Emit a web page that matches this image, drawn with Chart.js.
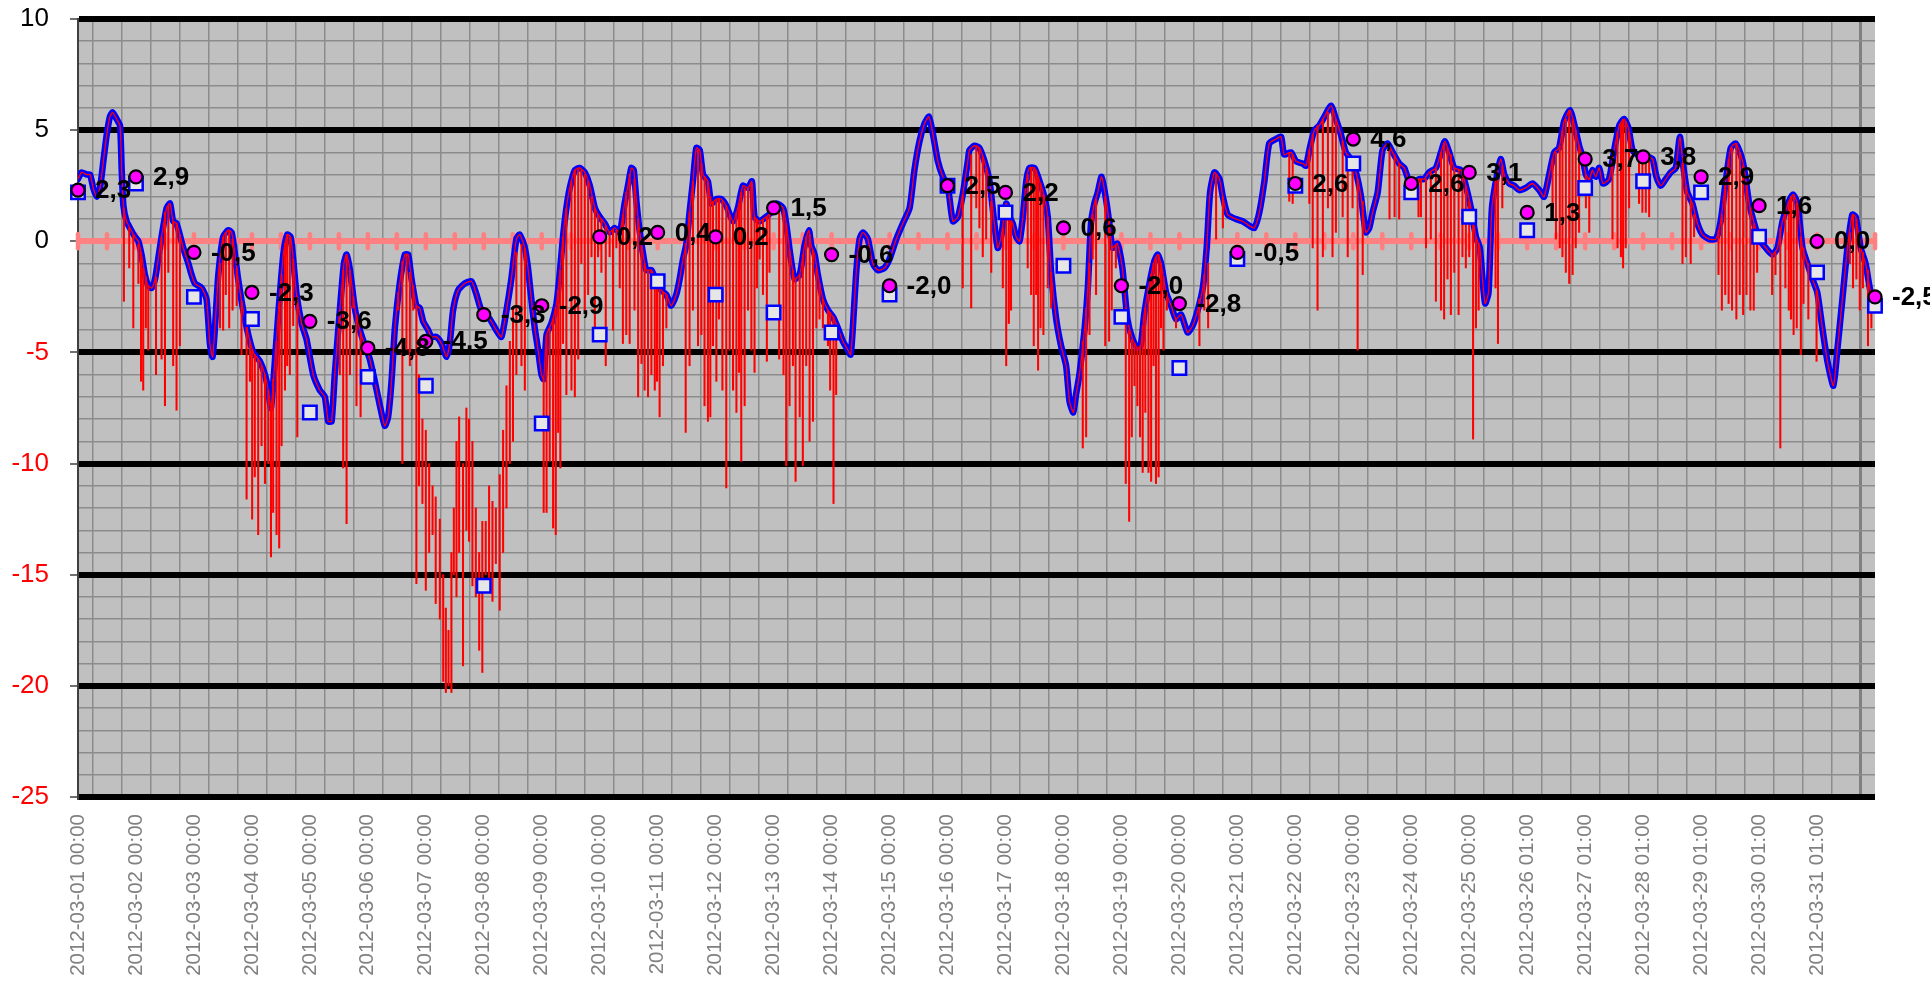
<!DOCTYPE html>
<html>
<head>
<meta charset="utf-8">
<title>Temperatur mars 2012</title>
<script src="https://cdn.jsdelivr.net/npm/chart.js@4.4.1/dist/chart.umd.min.js"></script>
<style>
html,body{margin:0;padding:0;background:#fff}
#wrap{width:1930px;height:984px;position:relative}
</style>
</head>
<body>
<div id="wrap"><canvas id="tempChart"></canvas></div>
<script>

const dayLabels = [
"2012-03-01 00:00","2012-03-02 00:00","2012-03-03 00:00","2012-03-04 00:00","2012-03-05 00:00",
"2012-03-06 00:00","2012-03-07 00:00","2012-03-08 00:00","2012-03-09 00:00","2012-03-10 00:00",
"2012-03-11 00:00","2012-03-12 00:00","2012-03-13 00:00","2012-03-14 00:00","2012-03-15 00:00",
"2012-03-16 00:00","2012-03-17 00:00","2012-03-18 00:00","2012-03-19 00:00","2012-03-20 00:00",
"2012-03-21 00:00","2012-03-22 00:00","2012-03-23 00:00","2012-03-24 00:00","2012-03-25 00:00",
"2012-03-26 01:00","2012-03-27 01:00","2012-03-28 01:00","2012-03-29 01:00","2012-03-30 01:00",
"2012-03-31 01:00"
]

// daily mean (magenta dots, labelled)
const dayMeans = [2.3, 2.9, -0.5, -2.3, -3.6, -4.8, -4.5, -3.3, -2.9, 0.2, 0.4, 0.2, 1.5, -0.6, -2.0, 2.5,
2.2, 0.6, -2.0, -2.8, -0.5, 2.6, 4.6, 2.6, 3.1, 1.3, 3.7, 3.8, 2.9, 1.6, 0.0, -2.5]

// daily value (blue squares)
const daySquares = [2.2, 2.6, -2.5, -3.5, -7.7, -6.1, -6.5, -15.5, -8.2, -4.2, -1.8, -2.4, -3.2, -4.1, -2.4, 2.5,
1.3, -1.1, -3.4, -5.7, -0.8, 2.5, 3.5, 2.2, 1.1, 0.5, 2.4, 2.7, 2.2, 0.2, -1.4, -2.9]

// [hour since 03-01 00:00, temp]
const tempTrace = [
[0,2.8],[1.5,3.1],[3.6,3.0],[5,3.0],[6.3,2.4],[7.7,2.0],[9.1,2.4],[10.5,3.6],[11.9,4.8],[13.2,5.6],[14.3,5.8],[16,5.5],[17.4,5.2],[18.1,3.2],[18.8,1.6],[20.1,0.9],[21.5,0.6],[23.6,0.2],
[25,0.0],[26.3,-0.6],[27.7,-1.5],[29.1,-2.0],[30.5,-2.1],[31.9,-1.7],[33.2,-0.8],[34.6,0.2],[36.7,1.5],[38.1,1.7],[39.4,0.9],[40.8,0.8],[43.6,-0.3],[45.7,-1.0],[47,-1.5],
[48.4,-1.9],[51.2,-2.1],[53.2,-2.6],[54.6,-4.6],[55.7,-5.2],[56.7,-3.9],[58.1,-1.5],[60.1,0.2],[62.2,0.5],[63.6,0.4],[65,-0.6],[66.3,-1.7],[68.4,-3.1],[70.5,-4.2],
[72.6,-5.0],[75.3,-5.4],[77.4,-6.0],[78.8,-6.7],[79.9,-7.5],[81.1,-6.0],[82.9,-3.3],[85,-0.6],[86.6,0.3],[88,0.2],[89.1,-0.8],[90.5,-2.4],[92.6,-3.7],[94.6,-4.4],
[97.4,-6.0],[100.1,-6.7],[102.2,-7.0],[103.6,-8.1],[105,-8.1],[106.3,-6.0],[108.4,-3.1],[110.1,-1.0],[111.2,-0.6],[112.6,-1.3],[114.6,-3.0],[116.7,-4.0],[118.8,-4.7],
[120.8,-5.3],[122.9,-6.3],[125,-7.4],[127,-8.3],[128.4,-7.9],[129.8,-6.3],[131.2,-3.9],[133.2,-1.9],[135.3,-0.6],[136.7,-0.6],[138.1,-1.7],[140.1,-2.9],[141.5,-3.0],[142.9,-3.6],
[145,-4.0],[146.3,-4.3],[148.4,-4.3],[150.5,-4.6],[152.6,-5.2],[153.9,-4.6],[155.3,-3.1],[157.4,-2.2],[160.1,-1.9],[162.9,-1.8],[165,-2.4],[167,-3.1],
[170.5,-3.5],[173.2,-4.0],[175.3,-4.3],[177.4,-3.1],[179.4,-1.7],[181.5,0.1],[182.9,0.3],[185,-0.3],[186.3,-1.2],[187.7,-2.6],[189.1,-3.9],[190.5,-4.9],[191.9,-6.0],
[192.8,-6.2],[194,-4.2],[196,-3.7],[198.1,-2.8],[199.4,-1.5],[200.8,0.2],[202.2,1.5],[203.6,2.4],[205.7,3.2],[207.7,3.3],[209.8,3.1],[211.9,2.5],[214,1.5],
[216,1.1],[218.1,0.8],[220.1,0.4],[222.2,0.6],[224.3,0.4],[226.3,1.7],[227.7,2.5],[229.1,3.3],[230.1,3.2],[231.2,1.8],[232.6,0.4],[234,-0.6],[235.3,-1.3],[237.4,-1.3],
[239.4,-1.8],[241.5,-2.2],[243.6,-2.4],[245.6,-2.9],[247.7,-2.4],[249.1,-1.7],[250.5,-0.8],[251.9,-0.1],[253.2,1.3],[254.6,2.7],[256,4.2],[257.4,4.1],[258.8,3.0],[260.8,2.7],[262.2,1.7],
[264.3,1.9],[266.3,1.9],[268.4,1.6],[271.2,0.9],[273.2,1.5],[275.3,2.5],[277.4,2.4],[279,2.7],[280.1,1.1],[282.2,0.9],[284.9,1.1],[287,1.3],
[289.1,1.7],[291.9,1.5],[293.2,0.8],[294.9,-0.6],[296.7,-1.7],[298.8,-1.5],[300.8,-0.2],[302.6,0.5],[303.6,-0.2],[305,-0.6],[306.3,-1.5],[308.4,-2.6],[310.5,-3.1],
[312.6,-3.4],[314.6,-3.9],[316.7,-4.5],[318.8,-4.9],[319.9,-5.1],[320.8,-3.9],[322.2,-1.4],[323.6,0.1],[325,0.4],[327,0.1],[329.1,-1.0],[331.2,-1.3],[333.9,-1.2],
[336,-0.8],[338.8,0.1],[341.5,0.8],[344.3,1.5],[346.3,3.2],[348.4,4.5],[350.5,5.3],[352.3,5.6],[354,4.8],[356,3.6],[358.1,2.9],
[360.1,2.5],[362.2,0.9],[364.3,1.1],[366.3,2.1],[368.4,3.6],[369.1,4.1],[371.2,4.3],[373.2,4.2],[375.3,3.6],[377.4,2.7],[379.4,0.8],[380.8,-0.3],[382.2,0.2],
[384.3,1.7],[385.7,1.1],[387,0.8],[388.4,0.2],[389.8,0.0],[391.2,1.1],[392.6,2.7],[393.9,3.3],[396,3.3],[398.1,2.7],[400.1,2.0],[401.5,1.1],[402.9,-1.4],[405,-3.5],[407,-4.7],
[409.1,-5.6],[410.5,-7.2],[412.1,-7.7],[413.2,-6.9],[414.6,-6.0],[416.7,-4.0],[418.1,-2.1],[419.4,0.8],[420.8,1.7],[422.2,2.2],[423.8,2.9],[425.6,1.9],[426.9,0.9],[428.3,-0.3],[430.3,-0.1],
[432.4,-1.2],[434.5,-3.5],[436.6,-4.4],[438.6,-4.8],[440,-4.7],[441.4,-3.3],[443.6,-1.9],[445.6,-0.9],[447,-0.6],[448.4,-1.0],[450.5,-2.3],[452.6,-2.9],[454.6,-3.5],
[456.7,-3.3],[459.4,-4.1],[461.5,-3.8],[463.6,-3.1],[465.7,-2.1],[467.3,-0.3],[468.7,2.2],[470.5,3.1],[472.6,2.8],[474,2.0],[476,1.2],[479.4,1.0],
[482.2,0.9],[485,0.7],[487,0.6],[489.1,1.3],[491.2,2.7],[493.2,4.4],[496,4.6],[498.1,4.7],[499.4,3.9],[502.2,4.0],
[504.3,3.6],[507,3.5],[508.4,3.4],[509.8,4.1],[511.9,5.0],[513.9,5.2],[516,5.6],[518.8,6.1],[520.8,5.5],[522.9,4.8],[524.9,4.0],[527,3.7],
[529.1,3.1],[531.2,2.0],[533.2,0.4],[534.6,0.6],[536,1.3],[538.1,2.2],[540.1,4.1],[542.2,4.4],[544.3,4.0],[547,3.5],[549.1,3.3],[551.2,2.7],
[553.9,2.7],[555.3,2.8],[557.4,2.8],[559.4,3.1],[562.2,3.3],[564.3,4.0],[565.9,4.5],[567.7,4.0],[569.8,3.3],[572.6,3.2],[574.6,2.5],[576.7,1.5],
[578.8,0.2],[580.4,-0.3],[581.5,-1.7],[582.6,-2.8],[584,-2.3],[585.4,1.5],[587.7,3.1],[589.1,3.7],[590.5,3.0],[592.6,2.6],[594.6,2.5],[596.7,2.3],[599.4,2.4],
[602.2,2.6],[605,2.3],[607,2.0],[609.1,3.0],[611.2,4.0],[613.2,4.2],[615.3,5.4],[617.7,5.9],[619.4,5.3],[621.5,4.3],[622.9,3.8],
[624.3,3.0],[625.7,2.8],[627,3.2],[628.4,2.9],[629.8,3.3],[631.4,2.6],[633.9,2.8],[636,4.1],[638.1,5.2],[640.1,5.5],[641.9,5.1],[643.6,4.1],[645.6,3.9],
[647.7,3.8],[649.8,3.8],[651.9,3.7],[653.5,2.9],[655.3,2.5],[657.4,2.8],[659.4,3.1],[661.5,3.3],[663.2,4.7],[664.6,3.4],[666.3,2.2],[668.4,1.7],[670.5,0.8],
[672.6,0.3],[675.3,0.1],[678.1,0.1],[680.1,0.9],[682.2,2.7],[684.3,4.2],[686.3,4.4],[688.4,3.9],[689.8,3.3],[691.9,1.7],[694,0.8],
[696,0.1],[698.8,-0.3],[701.5,-0.6],[703.6,-0.3],[705.7,0.9],[708.4,1.8],[710.1,2.1],[711.9,1.7],[714,-0.3],[716,-1.0],[718.1,-1.7],
[720.1,-2.3],[722.2,-3.9],[724.3,-5.4],[726.8,-6.5],[728.4,-4.9],[730.5,-2.6],[732.6,-0.3],[734.6,1.2],[736,1.1],[738.1,-0.3],[740.1,-1.0],[742.2,-2.3],[744,-2.8]
]

// short drops in the raw reading: [hour, lowest, top]
const tempSpikes = [
[19.0,-2.7,1.5],[21.2,-1.2,0.6],[22.9,-3.9,0.3],[25.0,-1.9,0.0],[26.1,-6.3,-0.5],[27.0,-6.7,-1.2],[28.1,-3.9,-1.6],[29.1,-4.9,-2.0],[32.3,-6.0,-1.6],[34.6,-5.3,0.2],[36.0,-7.4,1.3],[37.4,-1.4,1.6],[39.4,-5.6,0.9],[40.8,-7.6,0.8],[42.2,-4.7,0.3],
[58.8,-3.9,-1.0],[60.1,-4.0,0.2],[61.2,-2.4,0.4],[62.6,-3.9,0.5],[64.0,-3.1,0.1],[65.7,-2.9,-1.2],[67.7,-5.1,-2.7],[69.8,-11.6,-3.8],[71.2,-6.3,-4.5],[72.1,-12.5,-4.9],[73.2,-10.6,-5.1],[74.6,-13.2,-5.3],[76.0,-9.2,-5.6],[77.4,-10.9,-6.0],[78.8,-10.0,-6.7],[79.9,-14.2,-7.5],[80.8,-12.2,-6.2],[82.2,-13.2,-4.5],[83.3,-13.8,-2.8],[84.3,-9.2,-1.5],[85.7,-6.7,-0.1],[86.6,-5.6,0.3],[87.7,-6.0,0.2],[89.1,-3.8,-0.8],[90.8,-8.8,-2.5],
[108.4,-6.0,-3.1],[109.8,-10.2,-1.3],[111.2,-12.7,-0.6],[112.6,-6.0,-1.3],[114.0,-3.0,-2.5],[115.3,-7.4,-3.3],[117.0,-7.9,-4.1],
[132.6,-3.1,-2.3],[134.3,-10.0,-0.9],[136.0,-4.9,-0.6],[137.4,-5.6,-1.4],[138.8,-3.1,-2.0],
[140.1,-15.4,-2.9],[141.2,-11.0,-6.0],[142.6,-11.8,-8.0],[144.0,-15.7,-8.5],[145.4,-14.0,-10.0],[146.8,-13.2,-11.0],[148.1,-16.3,-11.5],[149.8,-17.0,-12.5],[151.2,-19.8,-15.0],[152.3,-20.3,-16.5],[153.4,-20.0,-17.5],[154.6,-20.3,-14.0],[155.6,-15.0,-12.0],[156.7,-16.0,-9.0],[157.8,-14.0,-7.9],[159.4,-19.1,-10.0],[160.8,-13.0,-7.5],[161.9,-13.5,-8.0],[163.3,-15.5,-9.0],[164.7,-16.0,-12.0],[166.1,-18.4,-14.0],[167.4,-19.4,-12.6],[168.8,-15.0,-12.6],[170.2,-15.3,-11.0],[171.6,-16.2,-11.7],[173.0,-14.5,-12.0],[174.6,-16.6,-10.5],[176.0,-14.0,-8.5],[177.4,-12.0,-6.5],[178.8,-10.0,-4.5],[180.1,-9.0,-3.0],[181.5,-6.0,-0.5],[183.6,-5.6,0.0],[185.0,-6.7,-0.3],
[192.8,-12.2,-6.2],[194.0,-12.2,-4.2],[195.3,-9.9,-3.9],[196.7,-12.9,-3.5],[197.8,-13.2,-3.0],[198.8,-8.6,-2.2],[199.7,-10.2,-1.3],[200.8,-4.6,0.2],[202.2,-6.9,1.5],[204.3,-6.7,2.7],[205.7,-7.0,3.2],[207.1,-5.3,3.3],[208.4,-1.0,3.2],[209.8,-3.1,3.0],[211.2,-2.4,2.7],[212.6,-0.7,2.0],[214.0,-4.2,1.5],[215.3,-0.7,1.2],[216.7,-1.4,1.0],[218.5,-5.6,0.7],[220.1,-0.7,0.4],[221.5,-4.0,0.5],[222.9,-0.3,0.5],[224.3,-2.1,0.4],[225.6,-4.6,1.2],[227.0,-4.2,2.2],[228.4,-4.6,3.0],[230.4,-3.1,2.8],[231.9,-7.0,1.0],[233.3,-5.5,-0.2],[234.6,-6.7,-1.0],[236.0,-7.0,-1.3],[237.4,-6.0,-1.3],[238.8,-6.7,-1.6],[239.7,-6.3,-1.8],[240.8,-7.9,-2.0],[242.2,-5.6,-2.3],[243.6,-3.9,-2.4],
[251.6,-8.6,-0.1],[253.2,-5.6,1.3],[254.6,-3.1,2.7],[256.7,-4.7,4.1],[258.1,-4.2,3.5],[259.4,-7.4,2.9],[260.8,-8.1,2.7],[261.8,-7.9,2.0],[262.9,-4.7,1.8],[264.3,-6.3,1.9],[265.4,-3.5,1.9],[266.8,-6.7,1.8],[268.4,-11.1,1.6],[269.8,-4.9,1.2],[271.2,-6.7,0.9],[272.6,-7.7,1.3],[273.7,-5.9,1.7],[274.6,-9.9,2.2],[276.0,-7.4,2.4],[277.4,-3.1,2.4],[278.8,-4.9,2.6],[280.1,-5.9,1.1],[281.1,-2.1,1.0],[282.2,-0.8,0.9],[283.6,-2.4,1.0],[285.2,-5.4,1.1],[286.3,-1.4,1.2],
[290.3,-5.3,1.6],[292.1,-6.0,1.4],[293.2,-10.1,0.8],[294.6,-7.4,-0.4],[296.0,-5.6,-1.3],[297.1,-10.8,-1.7],[298.8,-7.9,-1.5],[300.1,-10.1,-0.6],[301.5,-5.6,0.2],[302.9,-9.0,0.3],[304.3,-8.1,-0.4],[305.7,-3.9,-1.2],[307.0,-3.5,-1.9],[308.4,-3.9,-2.6],[310.5,-4.7,-3.1],[311.4,-6.7,-3.2],[312.8,-11.8,-3.4],[313.9,-6.9,-3.7],
[366.3,-2.1,2.1],[369.8,-3.0,3.9],
[371.9,1.5,4.3],[373.2,0.6,4.2],[374.6,-0.7,3.8],[376.0,0.1,3.3],[378.1,-1.4,1.8],[382.9,-2.1,0.6],[384.3,-5.6,1.7],[385.4,-3.7,1.2],[386.3,-3.1,0.9],[393.2,-1.2,3.0],[394.6,-2.4,3.3],[395.7,-4.7,3.3],[396.7,-2.4,3.2],[397.5,-5.8,2.9],[398.5,-3.9,2.6],[399.7,-4.2,2.1],[401.5,-2.1,1.1],[402.9,-3.0,-1.4],
[416.0,-9.3,-4.5],[417.4,-8.8,-3.0],[418.8,-4.2,-1.0],[420.1,-0.8,1.2],[421.5,-2.4,1.9],[425.3,-4.7,2.0],[426.9,-4.5,0.9],[428.0,-3.1,-0.2],[429.7,-1.2,-0.2],
[433.8,-10.9,-3.0],[435.2,-12.6,-4.0],[436.3,-8.8,-4.4],[437.4,-6.5,-4.6],[438.6,-7.4,-4.8],[439.7,-8.8,-4.7],[440.8,-10.4,-3.8],[441.9,-7.7,-3.0],[443.2,-10.4,-2.1],[444.3,-10.8,-1.5],[445.3,-5.6,-1.0],[446.3,-10.9,-0.7],[447.4,-10.6,-0.6],[448.4,-3.9,-1.0],[449.4,-4.9,-1.6],[450.8,-3.1,-2.3],[454.6,-3.9,-3.5],[464.3,-4.7,-2.6],[466.3,-3.1,-1.5],[467.9,-3.9,-1.0],
[471.2,0.1,3.0],[474.0,0.6,2.0],
[501.5,1.8,4.0],[502.9,1.7,3.9],[509.8,1.7,4.1],[511.2,-0.3,4.8],[513.2,-3.1,5.2],[515.4,-0.7,5.5],[517.5,1.5,5.8],[519.4,-0.7,5.9],[520.8,0.4,5.5],[523.6,1.1,4.5],[525.7,-0.7,3.9],[527.7,1.5,3.5],[529.8,-4.9,2.8],[531.9,-1.5,1.8],
[543.0,1.0,4.2],[545.1,1.1,3.9],[547.0,1.0,3.5],[555.0,1.1,2.8],
[556.0,1.1,2.8],[558.1,-0.3,2.8],[560.1,0.1,3.1],[562.2,-2.7,3.3],[564.3,-3.1,4.0],[565.6,-3.5,4.4],[567.0,-1.7,4.2],[568.4,-3.3,3.9],[569.8,-1.4,3.3],[571.6,-3.3,3.2],[573.2,-0.7,3.1],[574.6,-1.2,2.5],[576.0,-0.7,1.8],[577.6,-8.9,1.0],[578.8,-3.9,0.2],[579.9,-3.1,-0.1],[586.9,-2.1,2.8],[587.9,-4.6,3.1],[589.7,1.5,3.4],
[610.5,1.5,3.7],[611.9,0.1,4.0],[613.5,-0.3,4.3],[614.6,-0.7,5.0],[616.0,-1.4,5.5],[617.4,-1.9,5.9],[618.8,-1.5,5.5],[620.1,-0.3,5.0],[621.5,0.4,4.3],[624.3,1.5,3.0],[625.7,0.4,2.8],
[635.3,0.1,3.8],[637.4,-0.3,4.9],[638.8,-0.7,5.3],[639.7,-1.2,5.5],[640.8,-0.3,5.4],[642.2,1.5,4.9],[646.3,1.7,3.9],[647.7,1.3,3.8],[649.1,1.3,3.8],[650.5,1.1,3.8],
[664.3,-1.0,3.5],[665.7,-0.7,2.5],[667.7,-1.0,1.8],[669.1,0.2,1.2],
[679.2,-1.5,0.5],[680.6,-3.1,1.2],[682.0,-2.4,2.6],[683.4,-2.8,3.7],[684.8,-3.1,4.2],[686.6,-3.5,4.4],[688.0,-2.4,4.0],[689.4,-3.3,3.4],[690.8,-2.4,2.6],[692.4,-3.1,1.5],[693.8,-3.1,0.8],[695.2,-1.4,0.3],
[701.4,-2.4,-0.6],[702.8,-1.5,-0.5],[704.8,-9.3,0.6],[706.9,-2.1,1.4],[708.3,-3.1,1.8],[709.2,-3.5,2.0],[710.3,-4.2,2.1],[711.6,-3.9,1.7],[713.3,-5.1,0.2],[714.4,-2.8,-0.3],[716.4,-3.5,-1.0],[719.8,-5.4,-2.2],
[733.6,-1.0,0.4],[734.9,-2.1,1.2],[736.3,-1.7,1.0],[737.7,-3.1,0.1],[739.0,-2.1,-0.5],[741.1,-4.7,-1.3],[742.5,-3.9,-2.3]
]

const hoursPerDay = 24
const lastHour = 744

Chart.defaults.font.family = "'Liberation Sans', Arial, sans-serif"


function commaLabel(v){
return v.toFixed(1).replace(".", ",")
}


const plotBackground = {
id:"plotBackground",
beforeDraw(c){
const a = c.chartArea
const ctx = c.ctx
ctx.save()
ctx.fillStyle = "#C0C0C0"
ctx.fillRect(a.left, a.top, a.right - a.left, a.bottom - a.top)
ctx.restore()
}
}

// small pink marks where the category axis crosses at 0
const zeroAxisMarks = {
id:"zeroAxisMarks",
beforeDatasetsDraw(c){
const xs = c.scales.x
const y0 = c.scales.y.getPixelForValue(0)
const ctx = c.ctx
ctx.save()
ctx.strokeStyle = "#FF8080"
ctx.lineWidth = 4.5
ctx.lineCap = "round"
xs.ticks.forEach(t=>{
const px = xs.getPixelForValue(t.value)
ctx.beginPath()
ctx.moveTo(px, y0 - 7)
ctx.lineTo(px, y0 + 7)
ctx.stroke()
})
ctx.restore()
}
}

const meanLabels = {
id:"meanLabels",
afterDatasetsDraw(c){
const meta = c.getDatasetMeta(0)
const ctx = c.ctx
ctx.save()
ctx.font = "bold 26px 'Liberation Sans', Arial, sans-serif"
ctx.fillStyle = "#000"
ctx.textAlign = "left"
ctx.textBaseline = "middle"
meta.data.forEach((p,i)=>{
ctx.fillText(commaLabel(dayMeans[i]), p.x + 17, p.y + 1)
})
ctx.restore()
}
}


function isMajor(v){
return Math.abs(v % 5) < 1e-9
}


chart = new Chart(document.getElementById("tempChart"),{

type:"line",

data:{
datasets:[
{
label:"dygnsmedel",
data:dayMeans.map((v,i)=>({x:i*hoursPerDay, y:v})),
showLine:false,
pointStyle:"circle",
pointRadius:6.5,
pointBackgroundColor:"#FF00FF",
pointBorderColor:"#000000",
pointBorderWidth:2.2,
clip:false,
order:0
},
{
label:"dygnsvärde",
data:daySquares.map((v,i)=>({x:i*hoursPerDay, y:v})),
showLine:false,
pointStyle:"rect",
pointRadius:9.5,
pointBackgroundColor:"#E6E6E6",
pointBorderColor:"#0000FF",
pointBorderWidth:2.5,
clip:false,
order:1
},
{
label:"rå",
data:tempTrace.map(p=>({x:p[0], y:p[1]})),
borderColor:"#FF0000",
borderWidth:1.3,
pointRadius:0,
tension:0.2,
order:2
},
{
type:"bar",
label:"spikar",
data:tempSpikes.map(s=>({x:s[0], y:[s[1], s[2]]})),
backgroundColor:"#FF0000",
borderWidth:0,
barThickness:1.4,
grouped:false,
order:3
},
{
label:"filtrerad",
data:tempTrace.map(p=>({x:p[0], y:p[1]})),
borderColor:"#0000FF",
borderWidth:6.5,
borderJoinStyle:"round",
borderCapStyle:"round",
pointRadius:0,
tension:0.2,
order:4
}
]
},

options:{
responsive:true,
maintainAspectRatio:false,
animation:false,
events:[],
layout:{padding:{top:19, right:55, left:0, bottom:0}},
plugins:{
legend:{display:false},
tooltip:{enabled:false}
},
scales:{
x:{
type:"linear",
min:0,
max:lastHour,
offset:false,
grid:{
color:c=>c.tick && c.tick.value === lastHour ? "#808080" : "#8C8C8C",
lineWidth:c=>c.tick && c.tick.value === lastHour ? 3 : 1.5,
drawTicks:false
},
border:{display:false},
ticks:{
stepSize:12,
autoSkip:false,
minRotation:90,
maxRotation:90,
padding:17,
color:"#808080",
font:{size:20.5},
callback:v=>{
const h = Math.round(v)
return h % hoursPerDay === 0 ? (dayLabels[h / hoursPerDay] || "") : ""
}
},
afterFit:s=>{ s.height = 187 }
},
y:{
min:-25,
max:10,
grid:{
color:c=>{
const v = c.tick.value
if(v === 0) return "#FF8080"
return isMajor(v) ? "#000000" : "#8C8C8C"
},
lineWidth:c=>isMajor(c.tick.value) ? 6 : 1.5,
tickLength:8,
tickColor:c=>isMajor(c.tick.value) ? "#404040" : "rgba(0,0,0,0)",
tickWidth:1.5
},
border:{color:"#404040", width:2},
ticks:{
stepSize:1,
autoSkip:false,
padding:21,
font:{size:26},
color:c=>c.tick.value < 0 ? "#FF0000" : "#000000",
callback:v=>isMajor(v) ? String(v) : ""
},
afterFit:s=>{
s.width = 78
s.paddingTop = 0
s.paddingBottom = 0
}
}
}
},

plugins:[plotBackground, zeroAxisMarks, meanLabels]

})

</script>
</body>
</html>
